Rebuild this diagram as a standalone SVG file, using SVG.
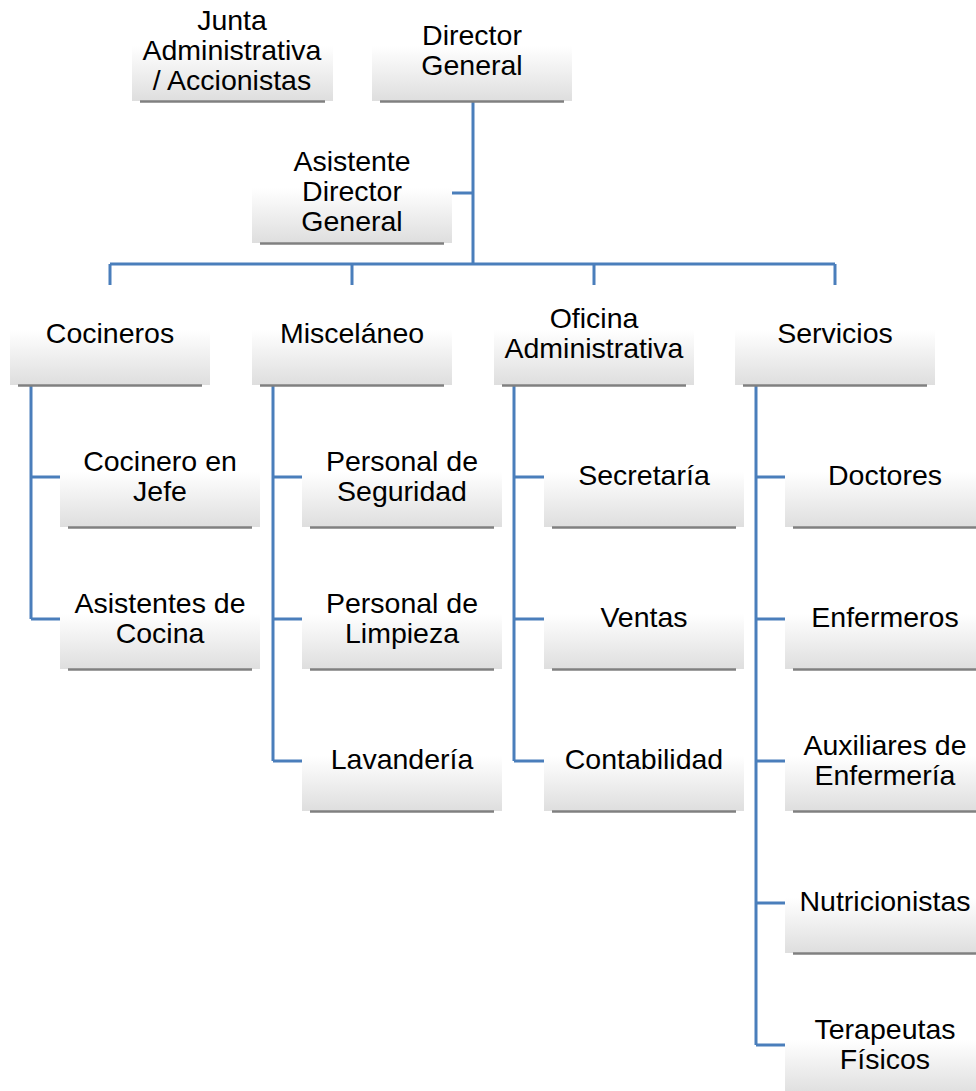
<svg xmlns="http://www.w3.org/2000/svg" width="976" height="1091" viewBox="0 0 976 1091">
<style>
.box{fill:url(#g)}
.sh{stroke:#808080;stroke-width:2.5}
.t{font-family:"Liberation Sans",Arial,sans-serif;font-size:28.5px;fill:#000;text-anchor:middle}
.c{fill:none;stroke:#4a7ebb;stroke-width:3}
</style>
<defs>
<linearGradient id="g" x1="0" y1="0" x2="0" y2="1">
<stop offset="0" stop-color="#ffffff"/>
<stop offset="0.45" stop-color="#ffffff"/>
<stop offset="1" stop-color="#dedede"/>
</linearGradient>
</defs>
<g id="connectors">
<path class="c" d="M473,101 V264 M452,193 H473 M110,264 H835 M110,264 V285 M352,264 V285 M594,264 V285 M835,264 V285"/>
<path class="c" d="M31,385 V619 M31,477 H60 M31,619 H60"/>
<path class="c" d="M273,385 V761 M273,477 H302 M273,619 H302 M273,761 H302"/>
<path class="c" d="M514,385 V761 M514,477 H544 M514,619 H544 M514,761 H544"/>
<path class="c" d="M756,385 V1045 M756,477 H785 M756,619 H785 M756,761 H785 M756,903 H785 M756,1045 H785"/>
</g>
<g id="junta"><rect class="box" x="132" y="1" width="201" height="100"/><line class="sh" x1="140" y1="101.5" x2="325" y2="101.5"/><text class="t" x="232" y="30">Junta</text><text class="t" x="232" y="60">Administrativa</text><text class="t" x="232" y="90">/ Accionistas</text></g>
<g id="director"><rect class="box" x="372" y="1" width="200" height="100"/><line class="sh" x1="380" y1="101.5" x2="564" y2="101.5"/><text class="t" x="472" y="45">Director</text><text class="t" x="472" y="75">General</text></g>
<g id="asistente"><rect class="box" x="252" y="143" width="200" height="100"/><line class="sh" x1="260" y1="243.5" x2="444" y2="243.5"/><text class="t" x="352" y="171">Asistente</text><text class="t" x="352" y="201">Director</text><text class="t" x="352" y="231">General</text></g>
<g id="cocineros"><rect class="box" x="10" y="285" width="200" height="100"/><line class="sh" x1="18" y1="385.5" x2="202" y2="385.5"/><text class="t" x="110" y="343">Cocineros</text></g>
<g id="miscelaneo"><rect class="box" x="252" y="285" width="200" height="100"/><line class="sh" x1="260" y1="385.5" x2="444" y2="385.5"/><text class="t" x="352" y="343">Misceláneo</text></g>
<g id="oficina"><rect class="box" x="494" y="285" width="200" height="100"/><line class="sh" x1="502" y1="385.5" x2="686" y2="385.5"/><text class="t" x="594" y="328">Oficina</text><text class="t" x="594" y="358">Administrativa</text></g>
<g id="servicios"><rect class="box" x="735" y="285" width="200" height="100"/><line class="sh" x1="743" y1="385.5" x2="927" y2="385.5"/><text class="t" x="835" y="343">Servicios</text></g>
<g id="cocinero-jefe"><rect class="box" x="60" y="427" width="200" height="100"/><line class="sh" x1="68" y1="527.5" x2="252" y2="527.5"/><text class="t" x="160" y="471">Cocinero en</text><text class="t" x="160" y="501">Jefe</text></g>
<g id="asistentes-cocina"><rect class="box" x="60" y="569" width="200" height="100"/><line class="sh" x1="68" y1="669.5" x2="252" y2="669.5"/><text class="t" x="160" y="613">Asistentes de</text><text class="t" x="160" y="643">Cocina</text></g>
<g id="seguridad"><rect class="box" x="302" y="427" width="200" height="100"/><line class="sh" x1="310" y1="527.5" x2="494" y2="527.5"/><text class="t" x="402" y="471">Personal de</text><text class="t" x="402" y="501">Seguridad</text></g>
<g id="limpieza"><rect class="box" x="302" y="569" width="200" height="100"/><line class="sh" x1="310" y1="669.5" x2="494" y2="669.5"/><text class="t" x="402" y="613">Personal de</text><text class="t" x="402" y="643">Limpieza</text></g>
<g id="lavanderia"><rect class="box" x="302" y="711" width="200" height="100"/><line class="sh" x1="310" y1="811.5" x2="494" y2="811.5"/><text class="t" x="402" y="769">Lavandería</text></g>
<g id="secretaria"><rect class="box" x="544" y="427" width="200" height="100"/><line class="sh" x1="552" y1="527.5" x2="736" y2="527.5"/><text class="t" x="644" y="485">Secretaría</text></g>
<g id="ventas"><rect class="box" x="544" y="569" width="200" height="100"/><line class="sh" x1="552" y1="669.5" x2="736" y2="669.5"/><text class="t" x="644" y="627">Ventas</text></g>
<g id="contabilidad"><rect class="box" x="544" y="711" width="200" height="100"/><line class="sh" x1="552" y1="811.5" x2="736" y2="811.5"/><text class="t" x="644" y="769">Contabilidad</text></g>
<g id="doctores"><rect class="box" x="785" y="427" width="200" height="100"/><line class="sh" x1="793" y1="527.5" x2="977" y2="527.5"/><text class="t" x="885" y="485">Doctores</text></g>
<g id="enfermeros"><rect class="box" x="785" y="569" width="200" height="100"/><line class="sh" x1="793" y1="669.5" x2="977" y2="669.5"/><text class="t" x="885" y="627">Enfermeros</text></g>
<g id="auxiliares"><rect class="box" x="785" y="711" width="200" height="100"/><line class="sh" x1="793" y1="811.5" x2="977" y2="811.5"/><text class="t" x="885" y="755">Auxiliares de</text><text class="t" x="885" y="785">Enfermería</text></g>
<g id="nutricionistas"><rect class="box" x="785" y="853" width="200" height="100"/><line class="sh" x1="793" y1="953.5" x2="977" y2="953.5"/><text class="t" x="885" y="911">Nutricionistas</text></g>
<g id="terapeutas"><rect class="box" x="785" y="995" width="200" height="100"/><text class="t" x="885" y="1039">Terapeutas</text><text class="t" x="885" y="1069">Físicos</text></g>
</svg>
